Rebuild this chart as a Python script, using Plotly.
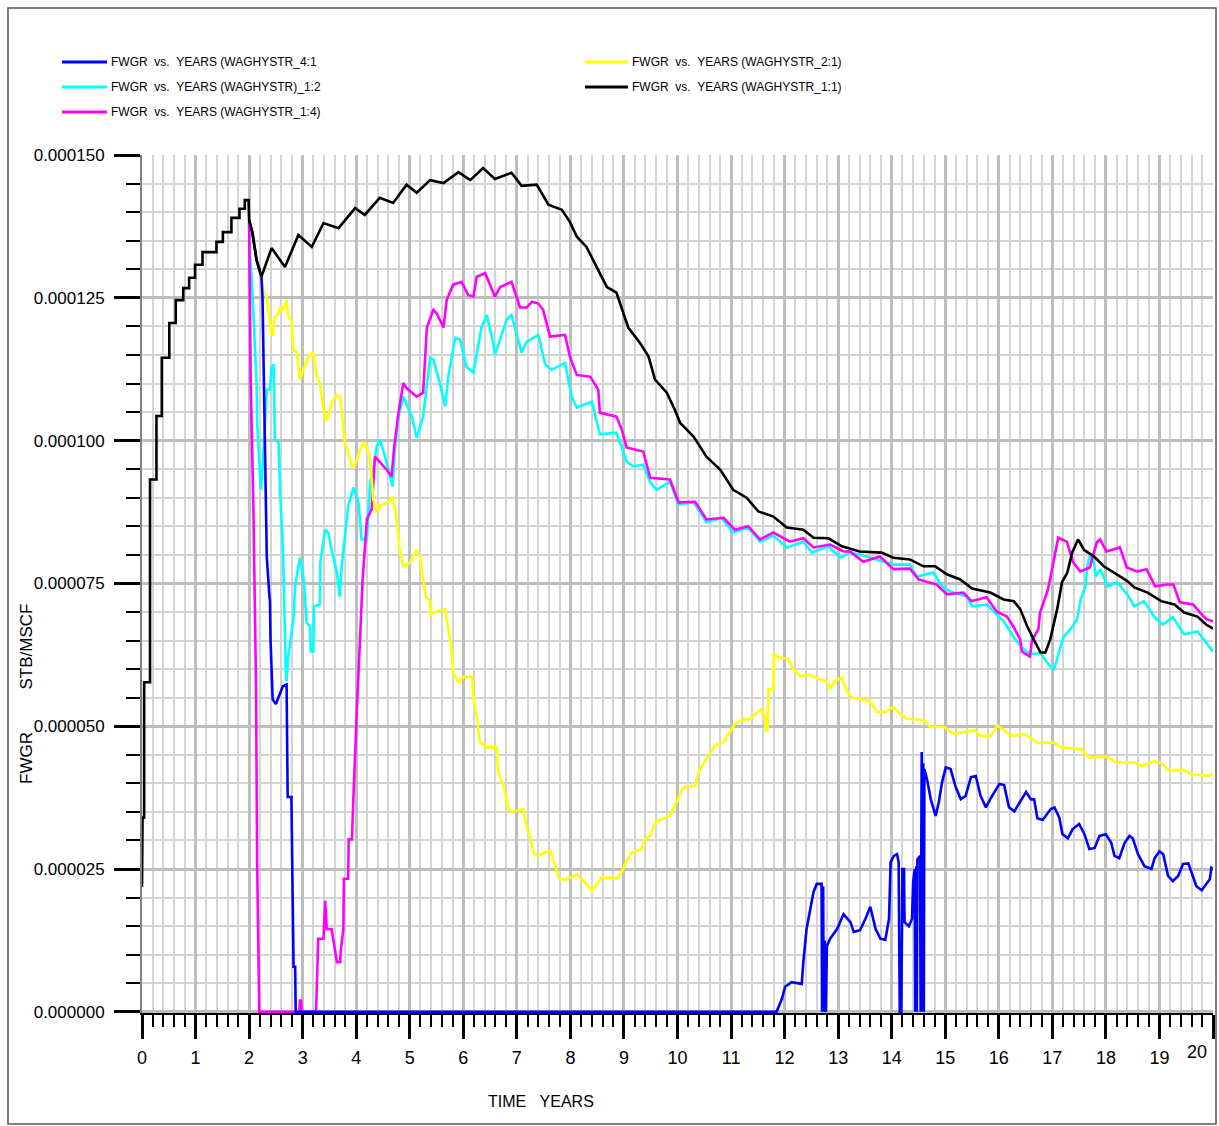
import plotly.graph_objects as go

# FWGR values are listed in units of 1e-6 STB/MSCF (converted once below)
t_blue = [2.0, 2.06, 2.14, 2.23, 2.25, 2.27, 2.28, 2.30, 2.33, 2.38, 2.39, 2.40, 2.44, 2.50, 2.56, 2.63, 2.70, 2.72, 2.79, 2.81, 2.83, 2.86, 2.87,
          11.85, 11.95, 12.01, 12.13, 12.32, 12.35, 12.41, 12.47, 12.54, 12.60, 12.69, 12.70, 12.72, 12.73, 12.75, 12.77, 12.79, 12.85, 12.98,
          13.10, 13.23, 13.29, 13.41, 13.51, 13.60, 13.70, 13.79, 13.88, 13.95, 13.98, 14.04, 14.10, 14.13, 14.15, 14.18, 14.20, 14.23, 14.24,
          14.32, 14.38, 14.40, 14.43, 14.44, 14.46, 14.47, 14.48, 14.53, 14.54, 14.56, 14.57, 14.59, 14.60, 14.61, 14.66, 14.73, 14.82, 14.88,
          14.94, 15.01, 15.10, 15.19, 15.29, 15.38, 15.48, 15.57, 15.66, 15.76, 15.85, 16.01, 16.10, 16.19, 16.29, 16.41, 16.51, 16.60, 16.66,
          16.72, 16.82, 16.97, 17.04, 17.13, 17.19, 17.29, 17.38, 17.50, 17.60, 17.69, 17.79, 17.88, 18.00, 18.10, 18.16, 18.25, 18.35, 18.44,
          18.50, 18.60, 18.72, 18.85, 18.91, 19.00, 19.07, 19.16, 19.25, 19.35, 19.44, 19.54, 19.63, 19.69, 19.79, 19.88, 19.94, 19.97, 20.0]
v_blue = [138.6, 136.5, 131.6, 128.7, 125.2, 114.7, 108.4, 97.2, 79.7, 72.7, 72.0, 65.2, 54.7, 53.9, 55.2, 57.0, 57.3, 37.6, 37.6, 26.2, 7.9, 7.9, 0,
          0, 2.3, 4.4, 5.2, 4.9, 8.7, 14.5, 17.5, 21.0, 22.4, 22.4, 0, 22.0, 0, 12.5, 0, 11.5, 12.8, 14.5,
          17.1, 15.7, 14.0, 14.3, 16.3, 18.4, 14.5, 12.8, 12.6, 16.3, 26.2, 27.3, 27.6, 26.2, 0, 0, 25.0, 25.0, 15.7,
          15.0, 16.3, 22.7, 25.0, 0, 25.5, 0, 26.7, 27.3, 0, 45.5, 0, 43.5, 0, 42.5, 40.7, 37.2, 34.3, 36.7,
          40.2, 42.8, 42.5, 39.5, 37.2, 37.8, 41.1, 41.3, 37.8, 35.8, 37.4, 39.9, 39.7, 35.8, 35.1, 36.9, 38.5, 37.2, 37.2,
          33.9, 33.6, 35.5, 35.8, 34.0, 31.1, 30.4, 32.0, 32.9, 31.1, 28.5, 28.7, 30.8, 31.1, 29.6, 27.3, 26.9, 29.6, 30.8,
          30.4, 27.6, 25.5, 25.0, 26.9, 28.1, 27.6, 23.8, 22.9, 23.8, 25.9, 26.0, 23.8, 22.0, 21.3, 22.4, 23.2, 25.2, 25.0]

t_cyan = [2.0, 2.01, 2.05, 2.08, 2.11, 2.14, 2.15, 2.19, 2.22, 2.25, 2.30, 2.33, 2.39, 2.42, 2.46, 2.48, 2.55, 2.58, 2.63, 2.65, 2.67, 2.69,
          2.70, 2.73, 2.76, 2.83, 2.86, 2.95, 3.01, 3.04, 3.07, 3.14, 3.15, 3.20, 3.21, 3.32, 3.33, 3.42, 3.48, 3.54, 3.64, 3.67, 3.69, 3.73,
          3.79, 3.85, 3.95, 4.04, 4.10, 4.20, 4.26, 4.32, 4.38, 4.44, 4.54, 4.63, 4.68, 4.72, 4.79, 4.88, 4.94, 5.04, 5.13, 5.25, 5.38, 5.44,
          5.56, 5.66, 5.72, 5.85, 5.94, 6.06, 6.19, 6.25, 6.34, 6.44, 6.56, 6.59, 6.69, 6.81, 6.90, 6.97, 7.09, 7.18, 7.40, 7.53, 7.65, 7.90,
          8.02, 8.12, 8.40, 8.55, 8.86, 9.05, 9.18, 9.36, 9.49, 9.61, 9.86, 10.02, 10.30, 10.54, 10.82, 11.04, 11.32, 11.54, 11.79, 12.04,
          12.35, 12.51, 12.82, 13.04, 13.22, 13.47, 14.03, 14.34, 14.47, 14.78, 14.94, 15.09, 15.40, 15.50, 15.78, 15.90, 16.09, 16.28, 16.43,
          16.59, 16.78, 16.90, 17.03, 17.12, 17.21, 17.34, 17.46, 17.53, 17.62, 17.65, 17.71, 17.78, 17.81, 17.90, 18.03, 18.21, 18.40, 18.53,
          18.71, 18.90, 19.06, 19.25, 19.46, 19.71, 19.87, 20.0]
v_cyan = [138.6, 133.4, 128.2, 121.7, 115.9, 110.1, 103.1, 95.5, 91.4, 94.9, 104.2, 108.9, 108.9, 112.9, 113.3, 100.2, 99.6, 90.9, 81.5, 72.7, 62.9, 58.2,
          57.9, 62.2, 64.0, 69.0, 74.8, 79.5, 76.3, 73.4, 68.2, 67.5, 63.1, 63.1, 71.0, 71.3, 78.7, 84.4, 83.9, 80.9, 76.9, 73.4, 72.7, 78.0,
          82.7, 88.5, 91.8, 89.2, 82.7, 82.7, 92.7, 94.9, 98.9, 100.2, 97.2, 93.5, 92.0, 98.4, 104.2, 107.7, 106.5, 104.2, 100.5, 104.2, 114.5, 114.2,
          110.1, 106.0, 111.2, 118.0, 117.7, 112.9, 111.9, 115.4, 119.9, 122.0, 117.1, 115.0, 117.7, 121.2, 122.0, 119.5, 115.4, 117.3, 118.5, 113.3, 112.4, 113.6,
          107.7, 105.8, 106.8, 101.1, 101.4, 96.3, 95.5, 95.8, 92.7, 91.4, 92.8, 88.8, 89.2, 85.7, 86.5, 83.9, 84.8, 82.3, 83.4, 81.3,
          82.3, 80.4, 81.5, 79.5, 80.4, 79.9, 78.3, 78.3, 76.2, 76.9, 74.5, 73.6, 72.7, 71.0, 71.3, 70.1, 68.4, 65.6, 63.8,
          62.6, 62.8, 61.2, 59.8, 62.9, 65.7, 67.0, 68.7, 72.2, 74.5, 78.0, 80.1, 78.5, 76.2, 77.5, 74.5, 75.2, 73.1, 71.0,
          71.9, 69.2, 67.8, 69.1, 66.1, 66.6, 64.7, 63.1]

t_magenta = [2.0, 2.01, 2.03, 2.08, 2.11, 2.13, 2.15, 2.17, 2.19, 2.94, 2.95, 2.97, 2.98, 3.25, 3.29, 3.39, 3.42, 3.45, 3.54, 3.57, 3.64, 3.70,
             3.71, 3.76, 3.77, 3.85, 3.86, 3.92, 3.93, 3.95, 4.01, 4.06, 4.12, 4.20, 4.29, 4.35, 4.57, 4.66, 4.71, 4.79, 4.88, 4.94, 5.13,
             5.25, 5.28, 5.32, 5.44, 5.50, 5.63, 5.69, 5.81, 5.97, 6.09, 6.19, 6.25, 6.41, 6.56, 6.59, 6.69, 6.90, 7.06, 7.18, 7.28, 7.40,
             7.49, 7.62, 7.90, 7.99, 8.12, 8.37, 8.52, 8.55, 8.86, 8.96, 9.05, 9.36, 9.49, 9.86, 10.02, 10.33, 10.54, 10.86, 11.07, 11.32,
             11.54, 11.79, 12.10, 12.35, 12.54, 12.85, 13.10, 13.22, 13.47, 13.78, 14.03, 14.34, 14.50, 14.84, 15.03, 15.34, 15.49, 15.77,
             15.96, 16.15, 16.27, 16.40, 16.43, 16.58, 16.62, 16.74, 16.77, 16.92, 17.02, 17.11, 17.27, 17.39, 17.52, 17.70, 17.83, 17.89,
             18.01, 18.26, 18.39, 18.58, 18.76, 18.92, 19.14, 19.26, 19.38, 19.63, 19.76, 19.88, 20.0]
v_magenta = [138.3, 126.1, 110.1, 88.3, 71.9, 56.5, 26.2, 8.7, 0, 0, 2.0, 2.0, 0, 0, 12.8, 12.8, 19.5, 14.5, 14.5, 12.8, 8.7, 8.7,
             10.5, 14.5, 23.3, 23.3, 30.2, 30.2, 34.1, 38.1, 52.4, 62.6, 75.7, 86.2, 88.0, 97.2, 94.9, 93.7, 98.9, 104.9, 110.1, 109.2, 107.7,
             108.4, 113.6, 119.8, 122.9, 122.3, 119.8, 124.6, 127.3, 127.8, 125.5, 125.2, 128.7, 129.3, 125.9, 125.2, 126.9, 127.8, 123.3, 123.3, 124.3, 124.0,
             122.9, 118.2, 118.5, 114.7, 111.5, 111.2, 108.9, 104.9, 104.2, 101.9, 98.8, 98.1, 93.5, 93.2, 89.2, 89.3, 86.2, 86.5, 84.4, 85.0,
             82.7, 83.9, 82.3, 82.9, 81.3, 81.8, 80.6, 80.6, 78.8, 79.7, 77.5, 77.6, 75.7, 74.8, 73.1, 73.4, 71.9, 72.6,
             70.1, 69.2, 67.5, 65.2, 63.1, 62.2, 65.0, 67.0, 69.9, 74.0, 78.7, 83.0, 82.3, 78.7, 77.1, 77.8, 82.2, 82.7,
             80.6, 81.3, 77.8, 77.1, 77.5, 74.5, 74.8, 74.8, 71.7, 71.3, 69.9, 68.7, 68.4]

t_yellow = [2.0, 2.06, 2.14, 2.23, 2.28, 2.33, 2.36, 2.42, 2.45, 2.48, 2.55, 2.58, 2.64, 2.70, 2.73, 2.79, 2.83, 2.89, 2.95, 3.01, 3.11, 3.20,
            3.26, 3.32, 3.39, 3.45, 3.54, 3.64, 3.70, 3.76, 3.79, 3.85, 3.92, 3.98, 4.07, 4.16, 4.26, 4.32, 4.38, 4.44, 4.60, 4.69, 4.76, 4.82,
            4.88, 5.00, 5.13, 5.19, 5.25, 5.30, 5.38, 5.39, 5.44, 5.66, 5.72, 5.78, 5.81, 5.91, 6.00, 6.16, 6.19, 6.25, 6.31, 6.44, 6.62, 6.65,
            6.75, 6.84, 6.90, 7.12, 7.18, 7.24, 7.31, 7.40, 7.52, 7.62, 7.68, 7.78, 7.90, 8.00, 8.12, 8.18, 8.30, 8.40, 8.52, 8.58, 8.74, 8.86,
            8.96, 9.05, 9.15, 9.33, 9.39, 9.49, 9.55, 9.61, 9.86, 9.92, 10.02, 10.11, 10.33, 10.39, 10.48, 10.58, 10.70, 10.86, 10.95, 11.07,
            11.23, 11.35, 11.45, 11.57, 11.63, 11.65, 11.68, 11.70, 11.79, 11.80, 11.91, 12.07, 12.16, 12.29, 12.47, 12.66, 12.79, 12.85, 12.94,
            13.07, 13.16, 13.25, 13.38, 13.60, 13.72, 13.90, 14.03, 14.19, 14.28, 14.59, 14.72, 14.97, 15.15, 15.40, 15.54, 15.66, 15.85, 15.97,
            16.10, 16.23, 16.48, 16.72, 17.03, 17.16, 17.53, 17.69, 18.03, 18.19, 18.53, 18.66, 18.91, 19.03, 19.19, 19.44, 19.60, 19.91, 20.0]
v_yellow = [138.6, 136.5, 131.6, 128.7, 125.8, 125.2, 122.9, 118.5, 118.5, 121.7, 122.3, 123.4, 122.9, 124.6, 121.7, 121.1, 115.9, 115.4, 110.7, 112.4, 114.7, 115.4,
            111.2, 110.1, 105.4, 103.4, 106.6, 108.0, 107.7, 102.4, 99.6, 97.9, 95.5, 95.8, 98.4, 99.8, 96.7, 89.7, 87.4, 88.6, 89.2, 90.2, 85.7, 80.4,
            78.0, 78.6, 80.9, 79.7, 76.2, 72.7, 71.9, 69.2, 69.9, 70.5, 67.0, 63.5, 59.4, 57.7, 58.6, 58.7, 54.7, 51.8, 47.2, 46.3, 46.3, 42.0,
            39.6, 35.5, 35.0, 35.5, 32.6, 30.8, 27.9, 27.3, 27.9, 28.2, 26.7, 23.5, 23.0, 23.6, 24.1, 23.5, 22.4, 21.2, 22.7, 23.5, 23.5, 23.3,
            24.4, 26.5, 27.9, 28.5, 30.2, 30.8, 32.3, 33.4, 34.3, 35.5, 37.2, 39.3, 39.6, 41.9, 43.4, 44.8, 46.6, 47.2, 48.6, 50.4,
            51.2, 51.2, 52.1, 53.0, 51.8, 49.2, 49.2, 56.5, 56.5, 62.6, 62.0, 61.8, 60.0, 58.8, 59.0, 58.2, 57.9, 56.5, 57.9,
            58.5, 56.2, 55.0, 54.9, 54.3, 52.5, 52.5, 53.4, 51.9, 51.3, 51.1, 49.9, 49.9, 48.7, 49.0, 49.3, 48.3, 48.3, 50.1,
            49.3, 48.3, 48.6, 47.1, 47.1, 46.3, 46.0, 44.5, 44.7, 43.6, 43.7, 43.0, 43.9, 43.6, 42.2, 42.4, 41.6, 41.3, 41.8]

t_black = [0.0, 0.01, 0.04, 0.04, 0.15, 0.15, 0.27, 0.27, 0.37, 0.37, 0.51, 0.51, 0.63, 0.63, 0.77, 0.77, 0.88, 0.88, 0.99, 0.99, 1.13, 1.13,
           1.39, 1.39, 1.51, 1.51, 1.67, 1.67, 1.82, 1.82, 1.92, 1.92, 1.99, 2.0, 2.06, 2.14, 2.23, 2.42, 2.67, 2.92, 3.17, 3.39, 3.67, 3.98,
           4.16, 4.44, 4.69, 4.94, 5.13, 5.38, 5.63, 5.91, 6.13, 6.37, 6.59, 6.90, 7.09, 7.37, 7.59, 7.84, 7.99, 8.12, 8.30, 8.49, 8.68, 8.86,
           8.99, 9.08, 9.30, 9.46, 9.58, 9.80, 9.95, 10.05, 10.30, 10.54, 10.80, 11.04, 11.29, 11.51, 11.79, 12.04, 12.35, 12.54, 12.82, 13.07,
           13.40, 13.81, 14.03, 14.34, 14.59, 14.81, 15.03, 15.28, 15.50, 15.84, 16.09, 16.28, 16.40, 16.53, 16.65, 16.78, 16.87, 16.96, 17.09,
           17.18, 17.28, 17.37, 17.48, 17.59, 17.78, 17.96, 18.15, 18.40, 18.53, 18.78, 19.03, 19.28, 19.46, 19.71, 19.87, 20.0]
v_black = [21.9, 34.0, 34.0, 57.7, 57.7, 93.2, 93.2, 104.3, 104.3, 114.5, 114.5, 120.6, 120.6, 124.6, 124.6, 126.7, 126.7, 128.5, 128.5, 130.8, 130.8, 133.0,
           133.0, 134.8, 134.8, 136.5, 136.5, 139.0, 139.0, 140.6, 140.6, 142.1, 142.1, 138.6, 136.5, 131.6, 128.7, 133.7, 130.4, 136.0, 133.9, 138.1, 137.2, 140.7,
           139.5, 142.5, 141.6, 144.8, 143.4, 145.6, 145.1, 147.0, 145.6, 147.7, 145.8, 146.9, 144.6, 144.8, 141.3, 140.4, 138.3, 135.7, 133.9, 130.4, 126.9, 125.9,
           122.4, 119.8, 117.1, 114.7, 110.7, 108.4, 105.4, 103.1, 100.7, 97.2, 94.9, 91.4, 90.0, 87.6, 86.7, 84.8, 84.4, 83.0, 82.9, 81.5,
           80.6, 80.4, 79.5, 79.2, 78.0, 78.0, 76.6, 75.7, 74.1, 73.4, 72.2, 71.9, 70.5, 67.5, 65.2, 62.9, 62.9, 65.2, 70.5,
           75.2, 76.9, 80.4, 82.7, 80.9, 79.7, 78.0, 76.9, 75.4, 74.3, 73.4, 71.9, 71.3, 69.9, 69.2, 67.8, 67.1]

NB = "\u00a0"
series = [
    ("FWGR vs. YEARS (WAGHYSTR)_1:2", t_cyan, v_cyan, "#00ffff"),
    ("FWGR vs. YEARS (WAGHYSTR_1:4)", t_magenta, v_magenta, "#ff00ff"),
    ("FWGR vs. YEARS (WAGHYSTR_2:1)", t_yellow, v_yellow, "#ffff00"),
    ("FWGR vs. YEARS (WAGHYSTR_4:1", t_blue, v_blue, "#0000ff"),
    ("FWGR vs. YEARS (WAGHYSTR_1:1)", t_black, v_black, "#000000"),
]

legend_col1 = [("FWGR" + NB * 2 + "vs." + NB * 2 + "YEARS (WAGHYSTR_4:1", "#0000ff"),
               ("FWGR" + NB * 2 + "vs." + NB * 2 + "YEARS (WAGHYSTR)_1:2", "#00ffff"),
               ("FWGR" + NB * 2 + "vs." + NB * 2 + "YEARS (WAGHYSTR_1:4)", "#ff00ff")]
legend_col2 = [("FWGR" + NB * 2 + "vs." + NB * 2 + "YEARS (WAGHYSTR_2:1)", "#ffff00"),
               ("FWGR" + NB * 2 + "vs." + NB * 2 + "YEARS (WAGHYSTR_1:1)", "#000000")]

x_ticks = list(range(0, 21))
y_ticks = [0.0, 0.000025, 0.00005, 0.000075, 0.0001, 0.000125, 0.00015]

FONT = "Liberation Sans, Arial, sans-serif"

W, H = 1219, 1126
L, R, T, B = 142, 1213, 155, 1013


def px(x):
    return (x - L) / (R - L)


def py(y):
    return (B - y) / (B - T)


fig = go.Figure()
for name, t, v, color in series:
    fig.add_trace(go.Scatter(x=t, y=[val * 1e-6 for val in v], mode="lines", name=name,
                             line=dict(color=color, width=2.6), hoverinfo="skip"))

shapes = []
annotations = []
# outer frame
shapes.append(dict(type="rect", xref="paper", yref="paper", x0=px(8), x1=px(1216), y0=py(1124), y1=py(8),
                   line=dict(color="#555555", width=1.5), layer="below"))
# manual legend
rows = [62, 87, 112]
for (label, color), yy in zip(legend_col1, rows):
    shapes.append(dict(type="line", xref="paper", yref="paper", x0=px(62), x1=px(107), y0=py(yy), y1=py(yy),
                       line=dict(color=color, width=3)))
    annotations.append(dict(text=label, xref="paper", yref="paper", x=px(109), y=py(yy), xanchor="left",
                            yanchor="middle", showarrow=False, font=dict(family=FONT, size=12, color="black")))
for (label, color), yy in zip(legend_col2, rows):
    shapes.append(dict(type="line", xref="paper", yref="paper", x0=px(585), x1=px(628), y0=py(yy), y1=py(yy),
                       line=dict(color=color, width=3)))
    annotations.append(dict(text=label, xref="paper", yref="paper", x=px(630), y=py(yy), xanchor="left",
                            yanchor="middle", showarrow=False, font=dict(family=FONT, size=12, color="black")))
# axis titles
annotations.append(dict(text="TIME" + NB * 3 + "YEARS", xref="paper", yref="paper", x=px(541), y=py(1101),
                        xanchor="center", yanchor="middle", showarrow=False,
                        font=dict(family=FONT, size=16, color="black")))
annotations.append(dict(text="FWGR" + NB * 9 + "STB/MSCF", xref="paper", yref="paper", x=px(26), y=py(694),
                        xanchor="center", yanchor="middle", textangle=-90, showarrow=False,
                        font=dict(family=FONT, size=17, color="black")))
# last x tick label, shifted inside the frame as in the original
annotations.append(dict(text=str(x_ticks[-1]), xref="x", yref="paper", x=19.7, y=py(1052), xanchor="center",
                        yanchor="middle", showarrow=False, font=dict(family=FONT, size=18, color="black")))

fig.update_layout(
    width=W, height=H,
    margin=dict(l=L, r=W - R, t=T, b=H - B, pad=0),
    paper_bgcolor="white", plot_bgcolor="white",
    showlegend=False,
    shapes=shapes, annotations=annotations,
    xaxis=dict(range=[0, 20], tickmode="array", tickvals=x_ticks,
               ticktext=[str(v) for v in x_ticks[:-1]] + [""],
               ticks="outside", ticklen=24, tickwidth=2.5, tickcolor="black",
               showgrid=True, gridcolor="#bdbdbd", gridwidth=2.5,
               minor=dict(dtick=0.2, ticks="outside", ticklen=12, tickwidth=1.5, tickcolor="black",
                          showgrid=True, gridcolor="#d4d4d4", gridwidth=1.5),
               showline=True, linecolor="black", linewidth=2, zeroline=False,
               tickfont=dict(family=FONT, size=18, color="black"), ticklabelstandoff=3),
    yaxis=dict(range=[-0.0000002, 0.00015], tickmode="array", tickvals=y_ticks,
               ticktext=[f"{v:.6f}" for v in y_ticks],
               ticks="outside", ticklen=26, tickwidth=3, tickcolor="black",
               showgrid=True, gridcolor="#bdbdbd", gridwidth=2.5,
               minor=dict(dtick=0.000005, tick0=0, ticks="outside", ticklen=14, tickwidth=2, tickcolor="black",
                          showgrid=True, gridcolor="#d4d4d4", gridwidth=1.5),
               showline=True, linecolor="#808080", linewidth=2, zeroline=False,
               tickfont=dict(family=FONT, size=17, color="black"), ticklabelstandoff=6),
)

fig.write_html("out.html")
